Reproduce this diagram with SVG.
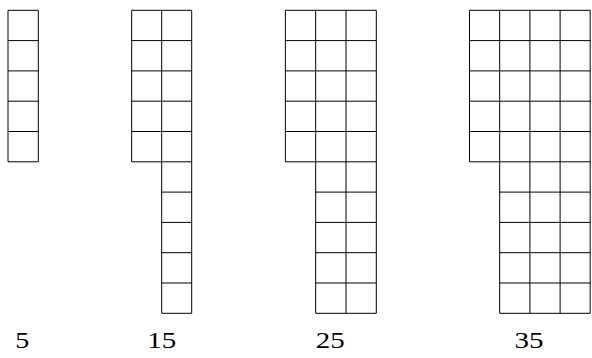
<svg xmlns="http://www.w3.org/2000/svg" width="592" height="358" viewBox="0 0 592 358">
<style>
.g{fill:none;stroke:#000;stroke-width:1}
.t{font-family:"Liberation Serif","Times New Roman",serif;font-size:24px;fill:#000;text-anchor:middle}
</style>
<rect width="592" height="358" fill="#fff"/>
<g id="fig5">
<path class="g" d="M8,10.3H38.3M8,40.6H38.3M8,70.9H38.3M8,101.2H38.3M8,131.5H38.3M8,161.8H38.3M8,10.3V161.8M38.3,10.3V161.8"/>
<text class="t" x="22.2" y="347.8" textLength="14" lengthAdjust="spacingAndGlyphs">5</text>
</g>
<g id="fig15">
<path class="g" d="M131.7,10.3H191.7M131.7,40.6H191.7M131.7,70.9H191.7M131.7,101.2H191.7M131.7,131.5H191.7M131.7,161.8H191.7M161.7,192.1H191.7M161.7,222.4H191.7M161.7,252.7H191.7M161.7,283H191.7M161.7,313.3H191.7M131.7,10.3V161.8M161.7,10.3V313.3M191.7,10.3V313.3"/>
<text class="t" x="161.7" y="347.8" textLength="29" lengthAdjust="spacingAndGlyphs">15</text>
</g>
<g id="fig25">
<path class="g" d="M285.4,10.3H376.3M285.4,40.6H376.3M285.4,70.9H376.3M285.4,101.2H376.3M285.4,131.5H376.3M285.4,161.8H376.3M315.7,192.1H376.3M315.7,222.4H376.3M315.7,252.7H376.3M315.7,283H376.3M315.7,313.3H376.3M285.4,10.3V161.8M315.7,10.3V313.3M346,10.3V313.3M376.3,10.3V313.3"/>
<text class="t" x="330.2" y="347.8" textLength="29" lengthAdjust="spacingAndGlyphs">25</text>
</g>
<g id="fig35">
<path class="g" d="M469.5,10.3H590.2M469.5,40.6H590.2M469.5,70.9H590.2M469.5,101.2H590.2M469.5,131.5H590.2M469.5,161.8H590.2M499.7,192.1H590.2M499.7,222.4H590.2M499.7,252.7H590.2M499.7,283H590.2M499.7,313.3H590.2M469.5,10.3V161.8M499.7,10.3V313.3M529.9,10.3V313.3M560.1,10.3V313.3M590.2,10.3V313.3"/>
<text class="t" x="529" y="347.8" textLength="29" lengthAdjust="spacingAndGlyphs">35</text>
</g>
</svg>
